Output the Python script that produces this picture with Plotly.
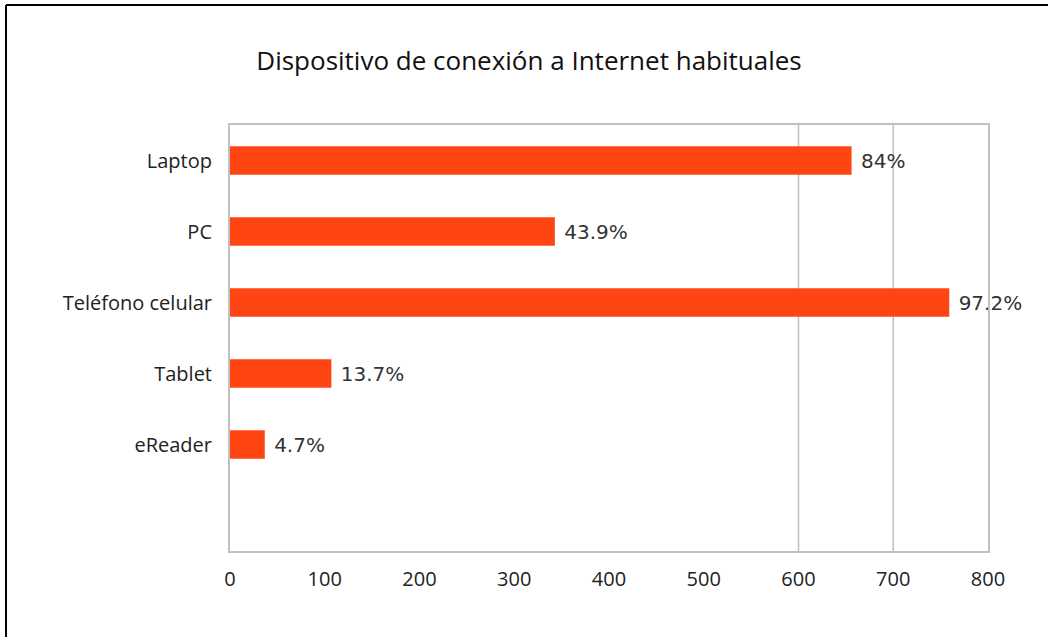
import plotly.graph_objects as go

# Survey: devices usually used to connect to the Internet
devices = ["Laptop", "PC", "Teléfono celular", "Tablet", "eReader"]
percent = [84, 43.9, 97.2, 13.7, 4.7]
pct_labels = ["84%", "43.9%", "97.2%", "13.7%", "4.7%"]
respondents = 781
x_ticks = [0, 100, 200, 300, 400, 500, 600, 700, 800]

# Bar length is the number of respondents behind each percentage
counts = [p / 100 * respondents for p in percent]
# First device at the top, with one empty slot left below the last bar
y_pos = list(range(len(devices), 0, -1))

fig = go.Figure(
    go.Bar(
        x=counts,
        y=y_pos,
        orientation="h",
        width=0.4,
        marker=dict(color="#FF4512", line=dict(width=0)),
        text=pct_labels,
        texttemplate=" %{text}",
        textposition="outside",
        textfont=dict(family="DejaVu Sans, Verdana", size=20, color="#333333"),
        cliponaxis=False,
        constraintext="none",
        hoverinfo="skip",
    )
)

grid_color = "#c0c0c0"
for gx in (600, 700):
    fig.add_shape(
        type="line", xref="x", yref="paper", x0=gx, x1=gx, y0=0, y1=1,
        line=dict(color=grid_color, width=1.5), layer="below",
    )

# Thin black frame along the top and left of the page
frame = dict(color="black", width=2)
fig.add_shape(type="line", xref="paper", yref="paper", x0=-0.2955, x1=1.08,
              y0=1.2817, y1=1.2817, line=frame)
fig.add_shape(type="line", xref="paper", yref="paper", x0=-0.2955, x1=-0.2955,
              y0=-0.21, y1=1.2817, line=frame)

tick_font = dict(family="Open Sans, Lato, sans-serif", color="#222222")

fig.update_layout(
    width=1048,
    height=637,
    margin=dict(l=230, r=60, t=125, b=86),
    paper_bgcolor="white",
    plot_bgcolor="white",
    showlegend=False,
    title=dict(
        text="Dispositivo de conexión a Internet habituales",
        x=0.3945, xref="paper", xanchor="center",
        y=0.905, yanchor="middle",
        font=dict(family="Open Sans, Lato, sans-serif", size=26, color="#111111"),
    ),
    xaxis=dict(
        range=[0, 800],
        tickvals=x_ticks,
        showgrid=False,
        zeroline=False,
        showline=True,
        linecolor=grid_color,
        linewidth=2,
        mirror=True,
        ticks="",
        ticklabelstandoff=9,
        tickfont=dict(size=20, **tick_font),
    ),
    yaxis=dict(
        range=[-0.5, len(devices) + 0.5],
        tickvals=y_pos,
        ticktext=devices,
        showgrid=False,
        zeroline=False,
        showline=True,
        linecolor=grid_color,
        linewidth=2,
        mirror=True,
        ticks="",
        ticklabelstandoff=12,
        tickfont=dict(size=20, **tick_font),
    ),
)

fig.write_html("out.html")
